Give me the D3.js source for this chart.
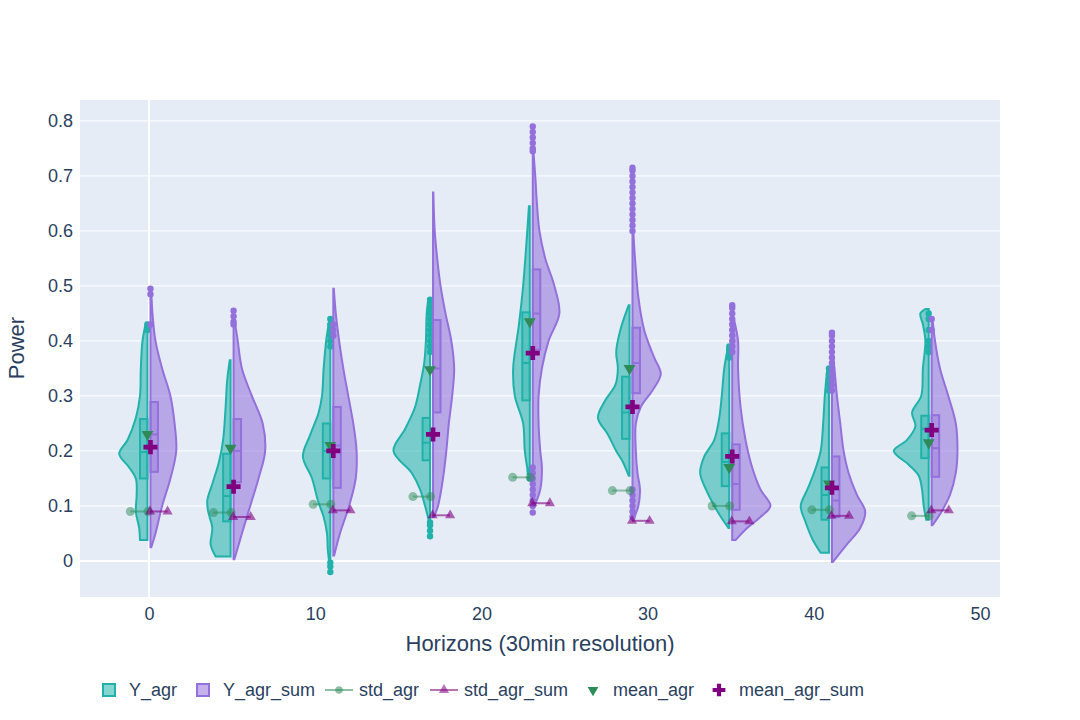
<!DOCTYPE html>
<html><head><meta charset="utf-8">
<script src="https://cdn.jsdelivr.net/npm/d3@7"></script>
<style>body{margin:0;background:#fff}text{font-family:"Liberation Sans",Arial,sans-serif;fill:#2a3f5f}</style>
</head><body><div id="chart"></div>
<script>
// horizon positions
const horizons = [0, 5, 11, 17, 23, 29, 35, 41, 47]
const yTicks = [0, 0.1, 0.2, 0.3, 0.4, 0.5, 0.6, 0.7, 0.8]
const xTicks = [0, 10, 20, 30, 40, 50]

// violin outlines: [power, half width in horizon units]
const agrShape = [
  [[0.038,0.45],[0.06,0.5],[0.09,0.7],[0.12,0.65],[0.15,0.7],[0.17,1.1],[0.195,1.7],[0.22,1.2],[0.26,0.7],[0.3,0.45],[0.35,0.4],[0.4,0.3],[0.433,0.1]],
  [[0.008,0.9],[0.03,1.2],[0.06,1.1],[0.09,1.35],[0.11,1.4],[0.14,1.1],[0.18,0.7],[0.22,0.45],[0.28,0.3],[0.33,0.2],[0.365,0.05]],
  [[-0.005,0.05],[0.02,0.15],[0.05,0.2],[0.08,0.4],[0.11,0.75],[0.15,1.1],[0.19,1.65],[0.23,1.2],[0.27,0.7],[0.3,0.5],[0.35,0.4],[0.4,0.25],[0.44,0.05]],
  [[0.07,0.05],[0.1,0.3],[0.13,0.6],[0.16,1.1],[0.2,2.2],[0.24,1.5],[0.28,0.9],[0.32,0.6],[0.36,0.35],[0.4,0.25],[0.45,0.2],[0.475,0.1]],
  [[0.16,0.1],[0.2,0.3],[0.25,0.4],[0.3,0.9],[0.35,1.0],[0.43,0.65],[0.5,0.4],[0.6,0.15],[0.645,0.05]],
  [[0.155,0.05],[0.18,0.4],[0.2,0.8],[0.23,1.3],[0.26,1.9],[0.29,1.5],[0.32,0.85],[0.35,0.7],[0.38,0.8],[0.42,0.55],[0.465,0.05]],
  [[0.06,0.05],[0.08,0.5],[0.1,0.9],[0.13,1.4],[0.16,1.75],[0.19,1.5],[0.22,0.9],[0.26,0.6],[0.3,0.45],[0.35,0.3],[0.385,0.1]],
  [[0.015,0.5],[0.04,1.0],[0.07,1.4],[0.1,1.7],[0.13,1.3],[0.16,0.9],[0.2,0.5],[0.25,0.35],[0.3,0.25],[0.35,0.1]],
  [[0.075,0.15],[0.1,0.3],[0.13,0.4],[0.155,0.6],[0.175,1.2],[0.2,2.1],[0.22,1.3],[0.245,0.8],[0.27,1.0],[0.3,0.45],[0.35,0.35],[0.4,0.2],[0.43,0.35],[0.45,0.5],[0.458,0.2]]
]
const sumShape = [
  [[0.025,0.05],[0.05,0.3],[0.1,0.7],[0.15,1.2],[0.2,1.55],[0.25,1.45],[0.3,1.2],[0.35,0.7],[0.4,0.3],[0.45,0.12],[0.49,0.05]],
  [[0.003,0.05],[0.05,0.5],[0.1,1.0],[0.15,1.5],[0.2,1.9],[0.25,1.75],[0.3,1.1],[0.35,0.5],[0.4,0.25],[0.44,0.05]],
  [[0.01,0.05],[0.05,0.4],[0.1,0.95],[0.15,1.35],[0.2,1.4],[0.25,1.2],[0.3,0.9],[0.35,0.6],[0.4,0.35],[0.45,0.15],[0.495,0.03]],
  [[0.08,0.05],[0.1,0.3],[0.15,0.6],[0.2,0.8],[0.25,0.95],[0.3,1.15],[0.35,1.27],[0.4,1.1],[0.45,0.75],[0.5,0.45],[0.55,0.25],[0.6,0.1],[0.67,0.02]],
  [[0.1,0.1],[0.13,0.45],[0.17,0.55],[0.2,0.45],[0.25,0.35],[0.3,0.35],[0.35,0.55],[0.4,0.95],[0.45,1.6],[0.5,1.3],[0.55,0.75],[0.6,0.4],[0.65,0.25],[0.7,0.15],[0.74,0.05]],
  [[0.075,0.05],[0.1,0.35],[0.13,0.45],[0.16,0.3],[0.2,0.2],[0.25,0.2],[0.28,0.5],[0.31,1.2],[0.34,1.7],[0.37,1.3],[0.42,0.7],[0.48,0.35],[0.55,0.15],[0.6,0.05]],
  [[0.038,0.2],[0.06,0.9],[0.08,1.7],[0.1,2.3],[0.13,1.7],[0.17,1.2],[0.22,0.8],[0.28,0.5],[0.35,0.35],[0.4,0.35],[0.44,0.1]],
  [[-0.002,0.05],[0.03,0.9],[0.06,1.7],[0.09,2.0],[0.12,1.5],[0.16,1.0],[0.2,0.7],[0.25,0.5],[0.3,0.3],[0.35,0.15],[0.38,0.05]],
  [[0.065,0.05],[0.09,0.6],[0.12,1.1],[0.16,1.45],[0.2,1.55],[0.25,1.45],[0.3,1.0],[0.35,0.5],[0.4,0.2],[0.44,0.05]]
]
// box stats: [q1, median, q3]
const agrBox = [[0.15,0.198,0.258],[0.072,0.118,0.195],[0.15,0.2,0.25],[0.183,0.215,0.26],[0.292,0.36,0.452],[0.222,0.27,0.335],[0.136,0.18,0.232],[0.075,0.12,0.17],[0.187,0.24,0.264]]
const sumBox = [[0.162,0.23,0.289],[0.143,0.2,0.258],[0.133,0.21,0.28],[0.27,0.35,0.438],[0.384,0.45,0.53],[0.305,0.36,0.424],[0.093,0.14,0.212],[0.08,0.11,0.19],[0.153,0.205,0.265]]
const agrOut = [
  [0.42,0.425,0.43],[],[-0.02,-0.01,-0.003,0.39,0.4,0.41,0.42,0.43,0.44],
  [0.045,0.055,0.065,0.07,0.38,0.39,0.4,0.41,0.42,0.43,0.44,0.45,0.46,0.47,0.475],
  [0.15,0.16,0.165],[],[0.37,0.38,0.385,0.39],[0.31,0.32,0.33,0.34,0.35],[0.38,0.39,0.4,0.42,0.44,0.45]
]
const sumOut = [
  [0.43,0.485,0.495],[0.43,0.435,0.445,0.455],[0.41,0.42,0.43],[],
  [0.088,0.1,0.11,0.12,0.13,0.14,0.15,0.16,0.17,0.745,0.75,0.76,0.77,0.78,0.79],
  [0.08,0.09,0.1,0.11,0.12,0.13,0.6,0.61,0.62,0.63,0.64,0.65,0.66,0.67,0.68,0.69,0.7,0.71,0.715],
  [0.38,0.39,0.4,0.41,0.42,0.43,0.44,0.45,0.46,0.465],[0.31,0.32,0.33,0.34,0.35,0.36,0.37,0.38,0.39,0.4,0.41,0.415],[0.42,0.44]
]
const stdAgr = [0.09,0.088,0.103,0.117,0.152,0.128,0.1,0.093,0.082]
const stdAgrSum = [0.09,0.08,0.092,0.083,0.105,0.073,0.072,0.082,0.092]
const meanAgr = [0.23,0.205,0.21,0.348,0.435,0.35,0.17,0.14,0.215]
const meanAgrSum = [0.207,0.135,0.2,0.23,0.378,0.28,0.19,0.133,0.238]

const W = 1080, H = 720
const m = {left: 80, right: 80, top: 100, bottom: 123}
const teal = '#20b2aa', purple = '#9370db'

const svg = d3.select('#chart').append('svg').attr('width', W).attr('height', H)
const x = d3.scaleLinear().domain([-4.15, 51.2]).range([m.left, W - m.right])
const y = d3.scaleLinear().domain([-0.0655, 0.838]).range([H - m.bottom, m.top])

svg.append('rect').attr('x', m.left).attr('y', m.top)
  .attr('width', W - m.left - m.right).attr('height', H - m.top - m.bottom).attr('fill', '#e5ecf6')

// grid (only the zero line is vertical)
svg.append('g').selectAll('line').data(yTicks).join('line')
  .attr('x1', m.left).attr('x2', W - m.right).attr('y1', d => y(d)).attr('y2', d => y(d))
  .attr('stroke', '#fff').attr('stroke-width', d => d === 0 ? 2 : 1)
svg.append('line').attr('y1', m.top).attr('y2', H - m.bottom).attr('x1', x(0)).attr('x2', x(0))
  .attr('stroke', '#fff').attr('stroke-width', 2)

const yAxis = svg.append('g').attr('transform', `translate(${m.left},0)`)
  .call(d3.axisLeft(y).tickValues(yTicks).tickSize(0).tickPadding(7).tickFormat(d => d === 0 ? '0' : d3.format('.1f')(d)))
const xAxis = svg.append('g').attr('transform', `translate(0,${H - m.bottom})`)
  .call(d3.axisBottom(x).tickValues(xTicks).tickSize(0).tickPadding(10))
;[xAxis, yAxis].forEach(a => { a.select('.domain').remove(); a.selectAll('text').style('font-size', '18px').style('font-family', '"Liberation Sans",Arial,sans-serif').attr('fill', '#2a3f5f') })

svg.append('text').attr('x', (m.left + W - m.right) / 2).attr('y', 651).attr('text-anchor', 'middle')
  .style('font-size', '22px').text('Horizons (30min resolution)')
svg.append('text').attr('transform', 'translate(24,348) rotate(-90)').attr('text-anchor', 'middle')
  .style('font-size', '22px').text('Power')

const plot = svg.append('g')
svg.append('defs').append('clipPath').attr('id', 'clip').append('rect')
  .attr('x', m.left).attr('y', m.top).attr('width', W - m.left - m.right).attr('height', H - m.top - m.bottom)
plot.attr('clip-path', 'url(#clip)')

const off = 0.09
function violin(shape, box, outs, c, side, col) {
  const cx = c + side * off
  const area = d3.area().curve(d3.curveCatmullRom)
    .y(d => y(d[0])).x0(x(cx)).x1(d => x(cx + side * d[1]))
  plot.append('path').datum(shape).attr('d', area)
    .attr('fill', col).attr('fill-opacity', 0.55).attr('stroke', col).attr('stroke-width', 2)
  // inner box
  const bx = side < 0 ? x(cx - 0.45) : x(cx)
  plot.append('rect').attr('x', bx).attr('width', x(cx + 0.45) - x(cx))
    .attr('y', y(box[2])).attr('height', y(box[0]) - y(box[2]))
    .attr('fill', col).attr('fill-opacity', 0.35).attr('stroke', col).attr('stroke-width', 2)
  plot.append('line').attr('x1', bx).attr('x2', bx + x(cx + 0.45) - x(cx))
    .attr('y1', y(box[1])).attr('y2', y(box[1])).attr('stroke', col).attr('stroke-width', 2)
  plot.append('g').selectAll('circle').data(outs).join('circle')
    .attr('cx', x(cx)).attr('cy', d => y(d)).attr('r', 3.2).attr('fill', col)
}

horizons.forEach((h, i) => {
  violin(agrShape[i], agrBox[i], agrOut[i], h, -1, teal)
  violin(sumShape[i], sumBox[i], sumOut[i], h, 1, purple)
})

// std lines
const stdG = plot.append('g')
horizons.forEach((h, i) => {
  const a = [[h - 1.12, stdAgr[i]], [h - 0.06, stdAgr[i]]]
  stdG.append('path').attr('d', d3.line().x(d => x(d[0])).y(d => y(d[1]))(a))
    .attr('stroke', '#2e8b57').attr('stroke-opacity', 0.5).attr('stroke-width', 2)
  stdG.selectAll(null).data(a).join('circle').attr('cx', d => x(d[0])).attr('cy', d => y(d[1]))
    .attr('r', 4.5).attr('fill', '#2e8b57').attr('fill-opacity', 0.5)
  const b = [[h + 0.06, stdAgrSum[i]], [h + 1.12, stdAgrSum[i]]]
  stdG.append('path').attr('d', d3.line().x(d => x(d[0])).y(d => y(d[1]))(b))
    .attr('stroke', '#800080').attr('stroke-opacity', 0.6).attr('stroke-width', 2)
  stdG.selectAll(null).data(b).join('path')
    .attr('d', d3.symbol(d3.symbolTriangle, 45))
    .attr('transform', d => `translate(${x(d[0])},${y(d[1])})`)
    .attr('fill', '#800080').attr('fill-opacity', 0.6)
})
// means
plot.append('g').selectAll('path').data(horizons).join('path')
  .attr('d', d3.symbol(d3.symbolTriangle, 60))
  .attr('transform', (h, i) => `translate(${x(h - off)},${y(meanAgr[i])}) rotate(180)`)
  .attr('fill', '#2e8b57')
plot.append('g').selectAll('path').data(horizons).join('path')
  .attr('d', d3.symbol(d3.symbolCross, 110))
  .attr('transform', (h, i) => `translate(${x(h + off)},${y(meanAgrSum[i])})`)
  .attr('fill', '#800080')

// legend
const lg = svg.append('g').attr('transform', 'translate(0,690)')
const items = [
  {t: 'Y_agr', x: 102, k: 'box', c: teal},
  {t: 'Y_agr_sum', x: 196, k: 'box', c: purple},
  {t: 'std_agr', x: 325, k: 'circ', c: '#2e8b57'},
  {t: 'std_agr_sum', x: 430, k: 'tri', c: '#800080'},
  {t: 'mean_agr', x: 583, k: 'down', c: '#2e8b57'},
  {t: 'mean_agr_sum', x: 709, k: 'cross', c: '#800080'}
]
items.forEach(it => {
  const g = lg.append('g').attr('transform', `translate(${it.x},0)`)
  let tx = 0
  if (it.k === 'box') {
    g.append('rect').attr('x', 1).attr('y', -6).attr('width', 12).attr('height', 12)
      .attr('fill', it.c).attr('fill-opacity', 0.55).attr('stroke', it.c).attr('stroke-width', 2)
    tx = 27
  } else if (it.k === 'circ' || it.k === 'tri') {
    g.append('line').attr('x1', 0).attr('x2', 28).attr('stroke', it.c).attr('stroke-opacity', 0.55).attr('stroke-width', 2)
    g.append('path').attr('d', d3.symbol(it.k === 'circ' ? d3.symbolCircle : d3.symbolTriangle, 45))
      .attr('transform', 'translate(14,0)').attr('fill', it.c).attr('fill-opacity', 0.55)
    tx = 34
  } else {
    g.append('path').attr('d', d3.symbol(it.k === 'down' ? d3.symbolTriangle : d3.symbolCross, it.k === 'down' ? 50 : 90))
      .attr('transform', `translate(10,0)${it.k === 'down' ? ' rotate(180)' : ''}`).attr('fill', it.c)
    tx = 30
  }
  g.append('text').attr('x', tx).attr('y', 6).style('font-size', '18px').text(it.t)
})
</script></body></html>
